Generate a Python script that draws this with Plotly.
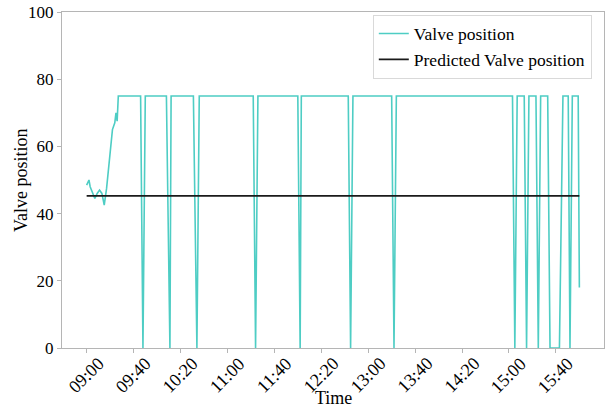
import plotly.graph_objects as go

DAY = "2023-01-01 "

# Measured valve position (vertices of the recorded series)
valve_times = [
    "09:00", "09:01", "09:02", "09:03", "09:05", "09:07", "09:09", "09:11", "09:13",
    "09:15", "09:17", "09:19", "09:21", "09:22", "09:24", "09:25", "09:26", "09:27",
    "09:46", "09:48", "09:50",
    "10:08", "10:11", "10:12",
    "10:31", "10:34", "10:36",
    "11:22", "11:24", "11:26",
    "12:00", "12:02", "12:03",
    "12:43", "12:45", "12:47",
    "13:20", "13:22", "13:24",
    "15:03", "15:05", "15:07",
    "15:13", "15:15", "15:17",
    "15:23", "15:25", "15:27",
    "15:33", "15:35", "15:43", "15:46",
    "15:50:30", "15:52", "15:54",
    "15:59", "16:00",
]
valve_values = [
    48.5, 49.5, 50, 48, 46.5, 44.5, 46, 47, 46,
    42.5, 47.5, 55, 61, 65, 67, 70, 67.5, 75,
    75, 0, 75,
    75, 0, 75,
    75, 0, 75,
    75, 0, 75,
    75, 0, 75,
    75, 0, 75,
    75, 0, 75,
    75, 0, 75,
    75, 0, 75,
    75, 0, 75,
    75, 0, 0, 75,
    75, 0, 75,
    75, 18,
]

pred_times = ["09:00", "16:00"]
pred_values = [45.3, 45.3]

y_ticks = [0, 20, 40, 60, 80, 100]
x_tick_labels = ["09:00", "09:40", "10:20", "11:00", "11:40", "12:20",
                 "13:00", "13:40", "14:20", "15:00", "15:40"]

FONT = "Liberation Serif, Times New Roman, serif"
SPINE = "#b5b5b5"

fig = go.Figure()
fig.add_trace(go.Scatter(
    x=[DAY + t for t in valve_times], y=valve_values, mode="lines",
    name="Valve position", line=dict(color="#4ECDC4", width=1.6),
))
fig.add_trace(go.Scatter(
    x=[DAY + t for t in pred_times], y=pred_values, mode="lines",
    name="Predicted Valve position", line=dict(color="#1a1a1a", width=1.8),
))

# rotated tick labels, centred under their ticks (matplotlib style)
annotations = [
    dict(x=DAY + t, xref="x", y=0, yref="paper", text=t, showarrow=False,
         textangle=-45, xanchor="center", yanchor="top", yshift=-3,
         font=dict(family=FONT, size=18, color="black"))
    for t in x_tick_labels
]
annotations.append(dict(x=0.5, xref="paper", y=0, yref="paper", text="Time",
                        showarrow=False, xanchor="center", yanchor="middle", yshift=-50,
                        font=dict(family=FONT, size=18, color="black")))
annotations.append(dict(x=0, xref="paper", y=0.5, yref="paper", text="Valve position",
                        showarrow=False, textangle=-90, xanchor="right", yanchor="middle",
                        xshift=-29, font=dict(family=FONT, size=18, color="black")))

fig.update_layout(
    width=607, height=407,
    margin=dict(l=62, r=3, t=12, b=59, autoexpand=False),
    paper_bgcolor="white", plot_bgcolor="white",
    font=dict(family=FONT, size=16, color="black"),
    showlegend=True,
    legend=dict(
        x=0.9775, y=0.992, xanchor="right", yanchor="top",
        bgcolor="rgba(255,255,255,0.9)", bordercolor="#d9d9d9", borderwidth=1,
        font=dict(family=FONT, size=17.5), tracegroupgap=0,
    ),
    annotations=annotations,
)
fig.update_xaxes(
    type="date",
    range=[DAY + "08:39", DAY + "16:21"],
    tickvals=[DAY + t for t in x_tick_labels],
    showticklabels=False,
    ticks="outside", ticklen=4, tickcolor=SPINE,
    showgrid=False, zeroline=False, automargin=False,
    showline=True, linecolor=SPINE, linewidth=1, mirror=True,
)
fig.update_yaxes(
    range=[0, 100],
    tickvals=y_ticks,
    ticks="outside", ticklen=4, tickcolor=SPINE,
    showgrid=False, zeroline=False, automargin=False,
    showline=True, linecolor=SPINE, linewidth=1, mirror=True,
    ticklabeloverflow="allow",
    tickfont=dict(family=FONT, size=17),
)

# remove the default page-body margin so the figure fills the window exactly
fig.write_html(
    "out.html",
    config={"displayModeBar": False},
    post_script="document.body.style.margin='0';document.body.style.overflow='hidden';",
)
